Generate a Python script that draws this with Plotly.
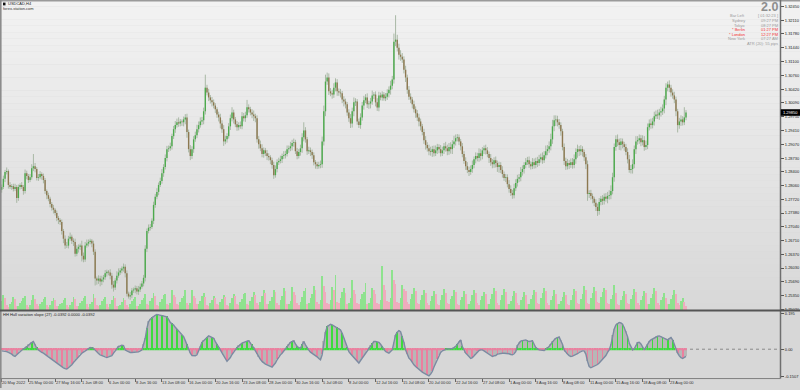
import plotly.graph_objects as go

# ---------------- data ----------------
date_labels = ["20 May 2022", "25 May 00:00", "27 May 16:00", "1 Jun 08:00", "6 Jun 00:00",
               "8 Jun 16:00", "13 Jun 08:00", "16 Jun 00:00", "20 Jun 16:00", "23 Jun 08:00",
               "28 Jun 00:00", "30 Jun 16:00", "5 Jul 08:00", "8 Jul 00:00", "12 Jul 16:00",
               "15 Jul 08:00", "20 Jul 00:00", "22 Jul 16:00", "27 Jul 08:00", "1 Aug 00:00",
               "3 Aug 16:00", "8 Aug 08:00", "11 Aug 00:00", "15 Aug 16:00", "18 Aug 08:00",
               "23 Aug 00:00"]
bars_per_label = 16

price_ticks = [1.32450, 1.32110, 1.31780, 1.31440, 1.31100, 1.30760, 1.30420, 1.30090,
               1.29750, 1.29410, 1.29070, 1.28730, 1.28400, 1.28060, 1.27720, 1.27380,
               1.27040, 1.26710, 1.26370, 1.26030, 1.25690, 1.25350, 1.25020]
hull_ticks = [0.195, 0.0, -0.1507]
hull_tick_text = ["0.195", "0.00", "-0.1507"]

first_open = 1.2795
close = [
    1.2802, 1.2822, 1.2839, 1.2841, 1.2807, 1.2802, 1.2804, 1.2797, 1.2802, 1.2775,
    1.2802, 1.2807, 1.2802, 1.2792, 1.2836, 1.2829, 1.2819, 1.2826, 1.2848, 1.2853,
    1.2846, 1.2824, 1.2826, 1.2834, 1.2829, 1.2819, 1.2792, 1.2782, 1.2773, 1.2760,
    1.2751, 1.2746, 1.2738, 1.2726, 1.2721, 1.2716, 1.2694, 1.2675, 1.2658, 1.2658,
    1.2675, 1.2680, 1.2670, 1.2667, 1.2638, 1.2650, 1.2655, 1.2658, 1.2633, 1.2624,
    1.2658, 1.2663, 1.2667, 1.2670, 1.2663, 1.2643, 1.2577, 1.2572, 1.2577, 1.2570,
    1.2575, 1.2580, 1.2590, 1.2594, 1.2592, 1.2584, 1.2562, 1.2555, 1.2572, 1.2584,
    1.2592, 1.2597, 1.2602, 1.2606, 1.2590, 1.2540, 1.2533, 1.2536, 1.2548, 1.2550,
    1.2553, 1.2545, 1.2550, 1.2557, 1.2565, 1.2579, 1.2650, 1.2694, 1.2702, 1.2704,
    1.2719, 1.2758, 1.2778, 1.2790, 1.2807, 1.2817, 1.2836, 1.2851, 1.2873, 1.2895,
    1.2897, 1.2902, 1.2927, 1.2944, 1.2954, 1.2961, 1.2958, 1.2963, 1.2961, 1.2968,
    1.2973, 1.2937, 1.2895, 1.2878, 1.2895, 1.2919, 1.2929, 1.2944, 1.2954, 1.2963,
    1.2966, 1.2988, 1.3046, 1.3034, 1.3022, 1.3015, 1.3010, 1.3002, 1.2993, 1.2980,
    1.2973, 1.2958, 1.2944, 1.2914, 1.2919, 1.2927, 1.2951, 1.2971, 1.2985, 1.2968,
    1.2956, 1.2949, 1.2954, 1.2951, 1.2976, 1.2971, 1.2978, 1.2998, 1.2993, 1.2985,
    1.2980, 1.2976, 1.2971, 1.2919, 1.2907, 1.2897, 1.2883, 1.2892, 1.2885, 1.2878,
    1.2875, 1.2868, 1.2856, 1.2831, 1.2846, 1.2863, 1.2866, 1.2870, 1.2878, 1.2880,
    1.2883, 1.2895, 1.2897, 1.2902, 1.2910, 1.2912, 1.2890, 1.2878, 1.2888, 1.2897,
    1.2924, 1.2941, 1.2919, 1.2890, 1.2892, 1.2888, 1.2880, 1.2863, 1.2858, 1.2853,
    1.2856, 1.2858, 1.2914, 1.2988, 1.3061, 1.3071, 1.3037, 1.3032, 1.3029, 1.3046,
    1.3059, 1.3037, 1.3034, 1.3032, 1.3017, 1.3012, 1.3005, 1.2985, 1.2971, 1.2958,
    1.2988, 1.3010, 1.3012, 1.2963, 1.2954, 1.2973, 1.3002, 1.3015, 1.3022, 1.3005,
    1.3007, 1.3012, 1.3027, 1.3029, 1.3010, 1.2997, 1.3027, 1.3022, 1.3029, 1.3020,
    1.3024, 1.3032, 1.3041, 1.3051, 1.3066, 1.3159, 1.3164, 1.3144, 1.3127, 1.3122,
    1.3115, 1.3090, 1.3071, 1.3041, 1.3024, 1.3017, 1.3005, 1.2993, 1.2983, 1.2973,
    1.2963, 1.2951, 1.2937, 1.2917, 1.2905, 1.2897, 1.2890, 1.2888, 1.2895, 1.2885,
    1.2892, 1.2900, 1.2895, 1.2885, 1.2892, 1.2902, 1.2897, 1.2890, 1.2900, 1.2895,
    1.2907, 1.2914, 1.2922, 1.2924, 1.2914, 1.2902, 1.2883, 1.2866, 1.2853, 1.2844,
    1.2839, 1.2846, 1.2856, 1.2870, 1.2878, 1.2873, 1.2885, 1.2878, 1.2892, 1.2897,
    1.2892, 1.2883, 1.2873, 1.2863, 1.2858, 1.2868, 1.2861, 1.2851, 1.2856, 1.2844,
    1.2834, 1.2824, 1.2826, 1.2809, 1.2797, 1.2787, 1.2782, 1.2799, 1.2812, 1.2822,
    1.2826, 1.2839, 1.2846, 1.2856, 1.2863, 1.2868, 1.2858, 1.2853, 1.2863, 1.2856,
    1.2866, 1.2861, 1.2870, 1.2875, 1.2868, 1.2880, 1.2890, 1.2895, 1.2902, 1.2919,
    1.2951, 1.2966, 1.2968, 1.2961, 1.2954, 1.2939, 1.2900, 1.2866, 1.2853, 1.2861,
    1.2856, 1.2863, 1.2856, 1.2870, 1.2888, 1.2895, 1.2890, 1.2895, 1.2888, 1.2875,
    1.2858, 1.2785, 1.2787, 1.2780, 1.2773, 1.2763, 1.2753, 1.2743, 1.2765, 1.2773,
    1.2768, 1.2778, 1.2773, 1.2780, 1.2782, 1.2792, 1.2826, 1.2900, 1.2919, 1.2912,
    1.2905, 1.2914, 1.2907, 1.2900, 1.2888, 1.2870, 1.2844, 1.2846, 1.2858, 1.2895,
    1.2914, 1.2917, 1.2922, 1.2912, 1.2917, 1.2900, 1.2905, 1.2949, 1.2958, 1.2954,
    1.2963, 1.2976, 1.2980, 1.2978, 1.2985, 1.2988, 1.2995, 1.3017, 1.3046, 1.3054,
    1.3046, 1.3034, 1.3027, 1.3017, 1.2988, 1.2954, 1.2963, 1.2968, 1.2961, 1.2973,
    1.2985,
]
wick_up_pips = [
    6, 8, 5, 9, 4, 7, 5, 6, 8, 5,
    6, 4, 7, 5, 9, 6, 5, 8, 10, 30,
    8, 5, 8, 7, 4, 6, 5, 4, 6, 5,
    5, 7, 4, 6, 5, 4, 6, 5, 8, 9,
    7, 10, 5, 6, 8, 9, 6, 5, 12, 8,
    9, 10, 6, 5, 4, 7, 6, 5, 8, 7,
    9, 6, 8, 5, 4, 8, 7, 9, 6, 11,
    10, 6, 5, 8, 6, 7, 5, 8, 6, 5,
    7, 6, 9, 8, 6, 7, 9, 6, 8, 7,
    6, 8, 7, 9, 6, 8, 10, 7, 9, 8,
    7, 9, 6, 8, 10, 9, 12, 6, 5, 7,
    8, 9, 6, 10, 7, 8, 9, 11, 9, 10,
    8, 9, 32, 7, 9, 6, 8, 7, 6, 5,
    7, 9, 8, 10, 9, 7, 8, 9, 13, 7,
    6, 8, 7, 9, 10, 8, 9, 18, 7, 6,
    8, 10, 6, 7, 8, 9, 10, 7, 6, 8,
    7, 5, 6, 8, 9, 7, 8, 9, 6, 10,
    8, 9, 7, 11, 8, 9, 6, 8, 7, 9,
    10, 20, 8, 6, 9, 7, 6, 7, 5, 6,
    8, 9, 12, 14, 17, 12, 10, 8, 9, 11,
    10, 8, 7, 9, 6, 8, 7, 6, 8, 10,
    9, 12, 8, 6, 7, 10, 9, 11, 8, 10,
    7, 9, 12, 6, 8, 10, 9, 7, 8, 6,
    9, 10, 8, 12, 9, 20, 60, 12, 10, 11,
    9, 8, 10, 7, 9, 8, 6, 9, 7, 8,
    9, 7, 6, 8, 10, 7, 9, 11, 8, 9,
    12, 8, 7, 10, 9, 8, 11, 9, 10, 12,
    10, 14, 9, 8, 7, 6, 8, 7, 9, 10,
    8, 9, 11, 7, 9, 8, 12, 10, 8, 7,
    9, 8, 6, 10, 8, 7, 9, 6, 8, 7,
    9, 6, 8, 7, 10, 9, 8, 11, 9, 10,
    8, 12, 9, 7, 10, 8, 9, 7, 10, 9,
    8, 10, 11, 9, 12, 10, 14, 10, 12, 14,
    16, 12, 10, 9, 8, 7, 6, 9, 8, 10,
    7, 9, 10, 12, 9, 11, 8, 10, 7, 6,
    8, 9, 7, 8, 6, 5, 9, 8, 10, 7,
    9, 8, 9, 10, 12, 14, 11, 9, 10, 12,
    9, 8, 7, 6, 8, 9, 11, 10, 12, 9,
    13, 10, 9, 8, 12, 10, 11, 9, 10, 12,
    9, 11, 10, 12, 9, 11, 10, 9, 11, 7,
    10, 7, 8, 9, 7, 6, 9, 10, 8, 25,
    6,
]
wick_dn_pips = [
    7, 5, 8, 6, 9, 5, 7, 6, 5, 12,
    7, 6, 5, 9, 6, 8, 7, 5, 6, 7,
    8, 6, 7, 5, 9, 8, 7, 10, 6, 8,
    7, 9, 6, 8, 10, 7, 9, 11, 8, 6,
    7, 5, 8, 10, 7, 6, 9, 8, 14, 7,
    6, 5, 7, 6, 9, 8, 17, 10, 8, 12,
    9, 7, 6, 8, 7, 9, 10, 10, 6, 7,
    5, 6, 7, 8, 10, 7, 5, 8, 7, 6,
    9, 7, 8, 6, 5, 7, 9, 8, 6, 7,
    5, 8, 7, 6, 8, 5, 7, 9, 6, 8,
    7, 6, 8, 7, 9, 6, 8, 7, 9, 10,
    12, 14, 8, 10, 7, 9, 6, 7, 8, 6,
    9, 10, 8, 7, 9, 8, 10, 7, 9, 8,
    10, 12, 9, 11, 7, 8, 6, 9, 8, 10,
    7, 9, 8, 6, 7, 8, 9, 6, 8, 7,
    9, 12, 10, 8, 11, 7, 8, 9, 7, 10,
    8, 10, 9, 9, 6, 8, 7, 6, 9, 7,
    8, 6, 9, 7, 10, 9, 7, 8, 6, 9,
    11, 10, 8, 9, 7, 10, 9, 8, 11, 7,
    6, 8, 9, 10, 12, 8, 9, 7, 10, 8,
    9, 11, 8, 10, 9, 12, 10, 8, 9, 11,
    10, 12, 9, 8, 7, 9, 8, 10, 7, 9,
    11, 12, 8, 9, 10, 8, 9, 7, 8, 6,
    7, 8, 10, 12, 9, 10, 11, 9, 12, 10,
    8, 9, 11, 10, 8, 9, 10, 8, 11, 9,
    12, 10, 8, 9, 11, 8, 10, 9, 12, 8,
    7, 9, 10, 8, 7, 9, 8, 10, 9, 11,
    12, 9, 10, 8, 9, 10, 8, 7, 9, 8,
    10, 7, 9, 8, 10, 8, 9, 11, 8, 9,
    10, 8, 12, 9, 10, 9, 11, 12, 14, 8,
    9, 7, 10, 8, 9, 7, 9, 8, 7, 9,
    8, 10, 9, 11, 8, 7, 9, 8, 7, 9,
    8, 10, 7, 8, 9, 7, 8, 10, 9, 10,
    11, 12, 14, 10, 9, 11, 8, 10, 9, 8,
    10, 7, 9, 8, 11, 14, 12, 10, 11, 9,
    12, 17, 10, 9, 11, 8, 10, 12, 9, 8,
    10, 9, 7, 11, 9, 10, 8, 11, 9, 10,
    12, 13, 10, 9, 8, 10, 7, 9, 11, 10,
    12, 8, 9, 10, 8, 9, 7, 10, 8, 9,
    8, 10, 7, 9, 11, 10, 9, 12, 14, 9,
    11, 10, 8, 9, 12, 18, 9, 11, 8, 7,
    7,
]
tick_volume = [
    9, 15, 12, 5,
    3, 6, 8, 13, 11, 4,   4, 7, 9, 12, 14, 5,   3, 5, 10, 15, 11, 6,
    4, 6, 8, 11, 13, 5,   3, 5, 9, 12, 10, 4,   4, 6, 7, 10, 12, 5,
    3, 5, 8, 13, 11, 4,   4, 7, 9, 12, 14, 6,   3, 6, 8, 16, 12, 5,
    4, 5, 9, 11, 13, 6,   3, 6, 10, 14, 12, 4,  4, 5, 8, 12, 10, 5,
    3, 6, 9, 11, 13, 4,   4, 6, 10, 12, 16, 6,  5, 9, 12, 17, 14, 5,
    4, 8, 11, 15, 16, 6,  5, 7, 20, 15, 13, 6,  5, 8, 12, 14, 20, 7,
    5, 7, 20, 14, 12, 6,  6, 9, 14, 17, 13, 5,  4, 7, 10, 14, 12, 6,
    5, 8, 11, 15, 13, 5,  4, 7, 12, 16, 14, 6,  5, 8, 11, 16, 17, 6,
    5, 9, 13, 18, 15, 7,  5, 8, 14, 20, 17, 6,  6, 9, 13, 20, 18, 7,
    5, 10, 14, 22, 19, 6, 6, 9, 23, 18, 15, 7,  5, 8, 13, 19, 22, 6,
    7, 12, 16, 24, 20, 8, 6, 10, 34, 24, 18, 7, 6, 10, 23, 20, 35, 8,
    7, 12, 18, 22, 17, 6, 7, 12, 30, 20, 16, 7, 6, 11, 16, 18, 27, 6,
    7, 12, 22, 20, 16, 7, 6, 10, 44, 25, 20, 9, 8, 12, 40, 30, 26, 8,
    7, 12, 25, 21, 19, 8, 6, 11, 16, 22, 19, 7, 6, 10, 15, 20, 17, 7,
    5, 9, 14, 19, 16, 6,  5, 10, 15, 21, 17, 7, 6, 11, 14, 20, 18, 6,
    5, 10, 13, 19, 16, 6, 6, 9, 15, 20, 17, 7,  5, 10, 14, 18, 16, 6,
    6, 11, 16, 22, 19, 7, 5, 10, 15, 21, 18, 6, 6, 9, 14, 19, 17, 7,
    5, 10, 13, 18, 15, 6, 6, 11, 15, 20, 18, 7, 6, 12, 17, 22, 19, 7,
    5, 10, 14, 20, 16, 6, 6, 9, 13, 18, 15, 6,  5, 10, 15, 21, 19, 7,
    6, 11, 16, 24, 20, 7, 6, 12, 17, 23, 19, 8, 7, 13, 18, 22, 20, 7,
    6, 11, 15, 25, 17, 6, 5, 10, 14, 19, 16, 7, 6, 11, 15, 21, 18, 7,
    5, 10, 14, 19, 17, 6, 6, 12, 16, 22, 19, 7, 5, 10, 13, 17, 12, 6,
    6, 11, 15, 20, 16, 7,
    5, 9, 12, 8, 4,
]
hull_slope = [
    -0.009, -0.009, -0.009, -0.013, -0.018, -0.022, -0.027, -0.035, -0.040, -0.031,
    -0.022, -0.013, -0.004, 0.002, 0.005, 0.015, 0.024, 0.029, 0.036, 0.042,
    0.024, 0.005, -0.004, -0.013, -0.018, -0.022, -0.027, -0.035, -0.042, -0.049,
    -0.056, -0.064, -0.071, -0.078, -0.086, -0.091, -0.096, -0.102, -0.107, -0.109,
    -0.102, -0.095, -0.086, -0.073, -0.062, -0.049, -0.040, -0.031, -0.022, -0.016,
    -0.009, -0.004, 0.004, 0.009, 0.007, 0.005, -0.005, -0.016, -0.024, -0.031,
    -0.035, -0.038, -0.042, -0.046, -0.042, -0.038, -0.035, -0.022, -0.009, 0.004,
    0.015, 0.018, 0.022, 0.020, -0.004, -0.009, -0.015, -0.018, -0.018, -0.018,
    -0.018, -0.018, -0.015, -0.009, -0.004, 0.027, 0.060, 0.115, 0.151, 0.164,
    0.173, 0.180, 0.186, 0.191, 0.189, 0.187, 0.186, 0.184, 0.180, 0.178,
    0.164, 0.147, 0.140, 0.133, 0.120, 0.109, 0.096, 0.087, 0.078, 0.069,
    0.047, 0.024, -0.004, -0.022, -0.035, -0.036, -0.036, -0.031, -0.013, 0.013,
    0.038, 0.047, 0.056, 0.066, 0.073, 0.069, 0.066, 0.060, 0.042, 0.024,
    0.009, -0.004, -0.020, -0.035, -0.051, -0.067, -0.056, -0.046, -0.029, -0.013,
    -0.004, 0.009, 0.020, 0.025, 0.033, 0.038, 0.040, 0.044, 0.046, 0.035,
    0.024, 0.007, -0.009, -0.027, -0.046, -0.056, -0.067, -0.076, -0.082, -0.086,
    -0.091, -0.095, -0.098, -0.087, -0.076, -0.058, -0.040, -0.031, -0.022, -0.011,
    0.002, 0.013, 0.025, 0.038, 0.042, 0.046, 0.029, 0.015, 0.009, 0.005,
    0.024, 0.042, 0.024, 0.005, -0.005, -0.016, -0.022, -0.029, -0.035, -0.042,
    -0.051, -0.058, -0.031, 0.042, 0.093, 0.124, 0.133, 0.137, 0.133, 0.127,
    0.124, 0.118, 0.113, 0.106, 0.087, 0.060, 0.033, 0.005, -0.013, -0.025,
    -0.036, -0.049, -0.058, -0.067, -0.076, -0.062, -0.049, -0.035, -0.022, -0.007,
    0.009, 0.020, 0.031, 0.042, 0.042, 0.040, 0.038, 0.027, 0.015, 0.002,
    -0.013, -0.018, -0.022, -0.013, -0.004, 0.038, 0.078, 0.093, 0.102, 0.096,
    0.069, 0.036, -0.004, -0.031, -0.049, -0.058, -0.073, -0.086, -0.095, -0.104,
    -0.113, -0.118, -0.126, -0.131, -0.137, -0.142, -0.146, -0.137, -0.122, -0.098,
    -0.076, -0.055, -0.035, -0.018, -0.009, -0.004, 0.000, 0.002, 0.002, 0.002,
    0.004, 0.009, 0.015, 0.027, 0.042, 0.051, 0.015, -0.009, -0.022, -0.031,
    -0.042, -0.051, -0.046, -0.035, -0.024, -0.013, -0.007, -0.004, -0.004, -0.009,
    -0.016, -0.022, -0.029, -0.036, -0.040, -0.036, -0.035, -0.027, -0.024, -0.022,
    -0.022, -0.022, -0.022, -0.022, -0.025, -0.029, -0.031, -0.025, -0.013, 0.020,
    0.036, 0.044, 0.047, 0.049, 0.051, 0.046, 0.042, 0.044, 0.046, 0.027,
    0.009, 0.002, -0.004, -0.005, -0.007, -0.007, 0.000, 0.007, 0.015, 0.027,
    0.042, 0.051, 0.060, 0.064, 0.067, 0.046, 0.027, -0.004, -0.018, -0.027,
    -0.035, -0.040, -0.038, -0.035, -0.031, -0.025, -0.018, -0.013, -0.009, -0.009,
    -0.027, -0.067, -0.095, -0.102, -0.098, -0.095, -0.089, -0.084, -0.076, -0.067,
    -0.058, -0.049, -0.035, -0.018, -0.004, 0.024, 0.078, 0.111, 0.133, 0.142,
    0.147, 0.144, 0.137, 0.118, 0.096, 0.069, 0.033, 0.009, -0.004, 0.002,
    0.020, 0.036, 0.038, 0.029, 0.013, -0.004, 0.011, 0.029, 0.042, 0.051,
    0.056, 0.062, 0.069, 0.071, 0.073, 0.069, 0.064, 0.060, 0.056, 0.051,
    0.058, 0.064, 0.051, 0.027, -0.004, -0.022, -0.036, -0.047, -0.051, -0.046,
    -0.039,
]

N = len(close)
lens = {k: len(v) for k, v in dict(wick_up=wick_up_pips, wick_dn=wick_dn_pips,
                                    vol=tick_volume, hull=hull_slope).items()}
if any(v != N for v in lens.values()):
    raise SystemExit(f"length mismatch: close={N} {lens}")

# ---------------- geometry (pixel layout of the reference) ----------------
W, H = 800, 390
PLOT_RIGHT = 780.0
X0_PX, PX_PER_BAR = 1.7, 1.669
x_range = [(0 - X0_PX) / PX_PER_BAR, (PLOT_RIGHT - X0_PX) / PX_PER_BAR]

def py(p):  # pixel y -> paper y
    return 1 - p / H

def px(p):  # pixel x -> paper x
    return p / W

MAIN_TOP, MAIN_BOT = 3.0, 311.5
IND_TOP, IND_BOT = 313.0, 380.0
price_range = [1.32614 - 0.00024441 * MAIN_BOT, 1.32614 - 0.00024441 * MAIN_TOP]
ind_range = [-(IND_BOT - 351) * 0.005461, (351 - IND_TOP) * 0.005461]

# ---------------- derived series ----------------
idx = list(range(N))
opens = [first_open] + close[:-1]
pip = 0.0001
highs = [max(o, c) + u * pip for o, c, u in zip(opens, close, wick_up_pips)]
lows = [min(o, c) - d * pip for o, c, d in zip(opens, close, wick_dn_pips)]

UP_BODY, DN_BODY, WICK = "#4caa4c", "#8c7850", "#a9b8a5"
GREEN, PINK = "#3cdc3c", "#ec7f9f"

fig = go.Figure()

# wicks (drawn first, under the bodies)
wx, wy = [], []
for i in idx:
    wx += [i, i, None]
    wy += [lows[i], highs[i], None]
fig.add_trace(go.Scatter(x=wx, y=wy, mode="lines", line=dict(color=WICK, width=1),
                         xaxis="x", yaxis="y", hoverinfo="skip"))

# bodies as thick segments (up / down)
ux, uy, dx, dy = [], [], [], []
for i, (o, c) in enumerate(zip(opens, close)):
    lo, hi = min(o, c), max(o, c)
    if hi - lo < 0.00006:
        lo, hi = lo - 0.00003, hi + 0.00003
    if c >= o:
        ux += [i, i, None]; uy += [lo, hi, None]
    else:
        dx += [i, i, None]; dy += [lo, hi, None]
fig.add_trace(go.Scatter(x=ux, y=uy, mode="lines", line=dict(color=UP_BODY, width=1.4),
                         xaxis="x", yaxis="y", hoverinfo="skip"))
fig.add_trace(go.Scatter(x=dx, y=dy, mode="lines", line=dict(color=DN_BODY, width=1.4),
                         xaxis="x", yaxis="y", hoverinfo="skip"))

# volumes (bottom of the price panel)
vol_colors = ["#86e486" if (i == 0 or tick_volume[i] >= tick_volume[i - 1]) else "#f2a8bb"
              for i in idx]
fig.add_trace(go.Bar(x=idx, y=tick_volume, width=0.5, marker=dict(color=vol_colors, line_width=0),
                     opacity=0.9, xaxis="x", yaxis="y3", hoverinfo="skip"))

# indicator: grey histogram, sparse coloured streaks, coloured zero line, outline
fig.add_trace(go.Bar(x=idx, y=hull_slope, width=1.0,
                     marker=dict(color="#b7b7b7", line_width=0),
                     xaxis="x2", yaxis="y2", hoverinfo="skip"))
streak_step = 3  # rendering of the coloured histogram lines seen at this zoom level
sx = idx[::streak_step]
sy = hull_slope[::streak_step]
fig.add_trace(go.Bar(x=sx, y=sy, width=0.45,
                     marker=dict(color=[GREEN if v >= 0 else PINK for v in sy], line_width=0),
                     xaxis="x2", yaxis="y2", hoverinfo="skip"))
gx, gy, kx, ky = [], [], [], []
for i, v in enumerate(hull_slope):
    if v >= 0:
        gx += [i - 0.5, i + 0.5, None]; gy += [0, 0, None]
    else:
        kx += [i - 0.5, i + 0.5, None]; ky += [0, 0, None]
fig.add_trace(go.Scatter(x=gx, y=gy, mode="lines", line=dict(color=GREEN, width=2.2),
                         xaxis="x2", yaxis="y2", hoverinfo="skip"))
fig.add_trace(go.Scatter(x=kx, y=ky, mode="lines", line=dict(color=PINK, width=2.2),
                         xaxis="x2", yaxis="y2", hoverinfo="skip"))
fig.add_trace(go.Scatter(x=idx, y=hull_slope, mode="lines", line=dict(color="#7c8ba2", width=1.4),
                         xaxis="x2", yaxis="y2", hoverinfo="skip"))

# ---------------- background / frame shapes ----------------
shapes = []
bands = 48
top_c, bot_c = (242, 242, 242), (216, 216, 216)
for k in range(bands):
    t = k / (bands - 1)
    c = tuple(round(a + (b - a) * t) for a, b in zip(top_c, bot_c))
    shapes.append(dict(type="rect", xref="paper", yref="paper", layer="below",
                       x0=0, x1=1, y0=py(MAIN_BOT * (k + 1) / bands), y1=py(MAIN_BOT * k / bands),
                       fillcolor=f"rgb{c}", line_width=0))
# zero level dotted
shapes.append(dict(type="line", xref="x2", yref="y2", layer="below", x0=x_range[0], x1=x_range[1],
                   y0=0, y1=0, line=dict(color="#8a8a8a", width=1, dash="dot")))
# frame lines
frame = "#6f6f6f"
shapes += [
    dict(type="line", xref="paper", yref="paper", x0=0, x1=1, y0=py(0.8), y1=py(0.8),
         line=dict(color="#9a9a9a", width=1.6)),
    dict(type="line", xref="paper", yref="paper", x0=px(0.8), x1=px(0.8), y0=0, y1=1,
         line=dict(color="#8c8c8c", width=1.6)),
    dict(type="line", xref="paper", yref="paper", x0=px(PLOT_RIGHT + 0.5), x1=px(PLOT_RIGHT + 0.5),
         y0=py(IND_BOT + 0.5), y1=1, line=dict(color=frame, width=1.5)),
    dict(type="line", xref="paper", yref="paper", x0=0, x1=1, y0=py(312.2), y1=py(312.2),
         line=dict(color="#555555", width=2)),
    dict(type="line", xref="paper", yref="paper", x0=0, x1=px(PLOT_RIGHT + 0.5),
         y0=py(IND_BOT + 0.5), y1=py(IND_BOT + 0.5), line=dict(color="#808080", width=1)),
    # symbol icon
    dict(type="rect", xref="paper", yref="paper", x0=px(3), x1=px(5.5), y0=py(5.4), y1=py(2.6),
         fillcolor="#111111", line_width=0),
]
# current price box
last_price = close[-1]
y_last = (1.32614 - last_price) / 0.00024441
shapes.append(dict(type="rect", xref="paper", yref="paper", x0=px(PLOT_RIGHT + 0.8), x1=1,
                   y0=py(y_last + 3.3), y1=py(y_last - 3.3), fillcolor="#000000", line_width=0))

# ---------------- annotations ----------------
FONT = "Liberation Sans, Arial, sans-serif"
ann = []

def text(x_px, y_px, s, anchor="left", size=4, color="#222222", bold=False):
    ann.append(dict(x=px(x_px), y=py(y_px), xref="paper", yref="paper", text=(f"<b>{s}</b>" if bold else s),
                    showarrow=False, xanchor=anchor, yanchor="middle",
                    font=dict(family=FONT, size=size, color=color), borderpad=0))

text(6.5, 3.8, "USDCAD,H4", size=4, color="#222222")
text(1.8, 8.4, "forex-station.com", size=4, color="#333333")
text(2.0, 316.0, "HH Hull variation slope (27) -0.0392 0.0000 -0.0392", size=4, color="#222222")

text(779, 6.6, "2.0", anchor="right", size=12.5, color="#8e8e8e", bold=True)
info_rows = [("Bar Left", "[ 01:32:23 ]", "#9a9a9a"), ("Sydney", "09:27 PM", "#9a9a9a"),
             ("Tokyo", "08:27 PM", "#9a9a9a"), ("* Berlin", "01:27 PM", "#f03030"),
             ("* London", "12:27 PM", "#f03030"), ("New York", "07:27 AM", "#9a9a9a")]
for k, (name, val, col) in enumerate(info_rows):
    yy = 16.0 + k * 4.6
    text(745.5, yy, name, anchor="right", size=4, color=col)
    text(779.2, yy, val, anchor="right", size=4, color=col)
text(779.2, 43.7, "ATR (20): 55 pips", anchor="right", size=4, color="#9a9a9a")

text(PLOT_RIGHT + 2.3, y_last, f"{last_price:.5f}", size=4, color="#ffffff")

tick_idx = [k * bars_per_label for k in range(len(date_labels))]
for ti, lab in zip(tick_idx, date_labels):
    ann.append(dict(x=ti, y=py(384.4), xref="x2", yref="paper", text=lab, showarrow=False,
                    xanchor="left", yanchor="middle", xshift=-0.5,
                    font=dict(family=FONT, size=4, color="#333333"), borderpad=0))

# ---------------- layout ----------------
fig.update_layout(
    width=W, height=H, margin=dict(l=0, r=0, t=0, b=0),
    paper_bgcolor="#d7d7d7", plot_bgcolor="rgba(0,0,0,0)",
    showlegend=False, barmode="overlay", bargap=0,
    font=dict(family=FONT, size=4, color="#222222"),
    shapes=shapes, annotations=ann,
    xaxis=dict(domain=[0, px(PLOT_RIGHT)], range=x_range, anchor="y", showgrid=False,
               zeroline=False, showticklabels=False, ticks="", showline=False, fixedrange=True),
    xaxis2=dict(domain=[0, px(PLOT_RIGHT)], range=x_range, anchor="y2", matches="x", showgrid=False,
                zeroline=False, showticklabels=False, ticks="outside", ticklen=3, tickwidth=1,
                tickcolor="#666666", tickvals=tick_idx, showline=False),
    yaxis=dict(domain=[py(MAIN_BOT), py(MAIN_TOP)], range=price_range, anchor="x", side="right",
               tickvals=price_ticks, ticktext=[f"{v:.5f}" for v in price_ticks],
               ticks="outside", ticklen=3, tickwidth=1, tickcolor="#555555",
               tickfont=dict(family=FONT, size=4, color="#222222"),
               showgrid=False, zeroline=False, showline=False),
    yaxis2=dict(domain=[py(IND_BOT), py(IND_TOP)], range=ind_range, anchor="x2", side="right",
                tickvals=hull_ticks, ticktext=hull_tick_text, ticks="outside", ticklen=3,
                tickwidth=1, tickcolor="#555555", tickfont=dict(family=FONT, size=4, color="#222222"),
                showgrid=False, zeroline=False, showline=False),
    yaxis3=dict(overlaying="y", range=[0, MAIN_BOT - MAIN_TOP], visible=False, anchor="x"),
)

fig.write_html("out.html")
